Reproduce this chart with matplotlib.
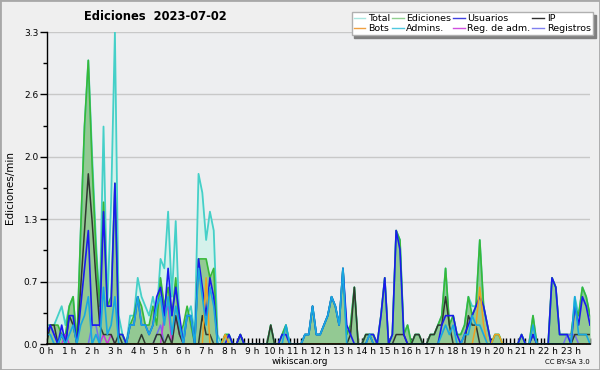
import numpy as np
import matplotlib
matplotlib.use("Agg")
import matplotlib.pyplot as plt
from matplotlib.lines import Line2D
from matplotlib.ticker import MultipleLocator, FixedLocator

# one value every 10 minutes, 00:00 .. 23:50 (one row per hour)
total = [
    0.2, 0.2, 0.2, 0.3, 0.4, 0.2,
    0.4, 0.5, 0.0, 1.2, 2.3, 3.0,
    2.0, 1.1, 0.4, 2.3, 0.4, 1.5,
    3.3, 0.3, 0.1, 0.0, 0.3, 0.3,
    0.7, 0.5, 0.4, 0.3, 0.5, 0.3,
    0.9, 0.8, 1.4, 0.5, 1.3, 0.2,
    0.1, 0.3, 0.4, 0.1, 1.8, 1.6,
    1.1, 1.4, 1.2, 0.1, 0.0, 0.1,
    0.1, 0.0, 0.0, 0.1, 0.0, 0.0,
    0.0, 0.0, 0.0, 0.0, 0.0, 0.2,
    0.0, 0.0, 0.1, 0.2, 0.0, 0.0,
    0.0, 0.0, 0.1, 0.1, 0.4, 0.1,
    0.1, 0.2, 0.3, 0.5, 0.4, 0.2,
    0.8, 0.1, 0.2, 0.6, 0.0, 0.0,
    0.1, 0.1, 0.1, 0.0, 0.3, 0.7,
    0.0, 0.1, 1.2, 1.1, 0.1, 0.2,
    0.0, 0.1, 0.1, 0.0, 0.0, 0.1,
    0.1, 0.2, 0.3, 0.8, 0.2, 0.3,
    0.1, 0.1, 0.2, 0.5, 0.4, 0.4,
    1.1, 0.4, 0.2, 0.0, 0.1, 0.1,
    0.0, 0.0, 0.0, 0.0, 0.0, 0.1,
    0.0, 0.0, 0.3, 0.0, 0.0, 0.0,
    0.0, 0.7, 0.6, 0.1, 0.1, 0.1,
    0.0, 0.5, 0.3, 0.6, 0.5, 0.3,
]
ediciones = [
    0.1, 0.2, 0.2, 0.2, 0.1, 0.1,
    0.4, 0.5, 0.0, 1.2, 2.3, 3.0,
    1.9, 1.0, 0.4, 1.5, 0.4, 0.5,
    1.7, 0.1, 0.1, 0.0, 0.2, 0.3,
    0.5, 0.4, 0.2, 0.2, 0.4, 0.2,
    0.7, 0.4, 0.6, 0.3, 0.7, 0.1,
    0.2, 0.4, 0.2, 0.0, 0.9, 0.9,
    0.9, 0.7, 0.8, 0.0, 0.0, 0.1,
    0.1, 0.0, 0.0, 0.1, 0.0, 0.0,
    0.0, 0.0, 0.0, 0.0, 0.0, 0.2,
    0.0, 0.0, 0.1, 0.2, 0.0, 0.0,
    0.0, 0.0, 0.1, 0.1, 0.4, 0.1,
    0.1, 0.2, 0.3, 0.5, 0.4, 0.2,
    0.8, 0.1, 0.2, 0.6, 0.0, 0.0,
    0.1, 0.1, 0.1, 0.0, 0.3, 0.7,
    0.0, 0.1, 1.2, 1.1, 0.1, 0.2,
    0.0, 0.1, 0.1, 0.0, 0.0, 0.1,
    0.1, 0.2, 0.3, 0.8, 0.2, 0.3,
    0.1, 0.1, 0.2, 0.5, 0.3, 0.4,
    1.1, 0.4, 0.2, 0.0, 0.1, 0.1,
    0.0, 0.0, 0.0, 0.0, 0.0, 0.1,
    0.0, 0.0, 0.3, 0.0, 0.0, 0.0,
    0.0, 0.7, 0.6, 0.1, 0.1, 0.1,
    0.1, 0.4, 0.3, 0.6, 0.5, 0.3,
]
usuarios = [
    0.1, 0.2, 0.1, 0.0, 0.2, 0.0,
    0.3, 0.3, 0.0, 0.4, 0.8, 1.2,
    0.2, 0.2, 0.2, 1.4, 0.4, 0.4,
    1.7, 0.1, 0.1, 0.0, 0.2, 0.2,
    0.5, 0.2, 0.2, 0.1, 0.2, 0.5,
    0.6, 0.3, 0.8, 0.3, 0.6, 0.3,
    0.0, 0.3, 0.3, 0.0, 0.9, 0.6,
    0.3, 0.7, 0.5, 0.0, 0.0, 0.0,
    0.1, 0.0, 0.0, 0.1, 0.0, 0.0,
    0.0, 0.0, 0.0, 0.0, 0.0, 0.0,
    0.0, 0.0, 0.1, 0.1, 0.0, 0.0,
    0.0, 0.0, 0.1, 0.1, 0.4, 0.1,
    0.1, 0.2, 0.3, 0.5, 0.4, 0.2,
    0.8, 0.2, 0.1, 0.0, 0.0, 0.0,
    0.0, 0.1, 0.1, 0.0, 0.3, 0.7,
    0.0, 0.1, 1.2, 1.0, 0.1, 0.0,
    0.0, 0.0, 0.0, 0.0, 0.0, 0.0,
    0.0, 0.0, 0.2, 0.3, 0.3, 0.3,
    0.1, 0.0, 0.1, 0.2, 0.3, 0.4,
    0.5, 0.4, 0.2, 0.0, 0.0, 0.0,
    0.0, 0.0, 0.0, 0.0, 0.0, 0.1,
    0.0, 0.0, 0.1, 0.0, 0.0, 0.0,
    0.0, 0.7, 0.6, 0.1, 0.1, 0.1,
    0.0, 0.4, 0.2, 0.5, 0.4, 0.2,
]
ip = [
    0.0, 0.2, 0.2, 0.0, 0.1, 0.0,
    0.3, 0.2, 0.0, 0.6, 1.2, 1.8,
    1.3, 0.7, 0.2, 0.1, 0.1, 0.1,
    0.0, 0.1, 0.0, 0.0, 0.0, 0.0,
    0.0, 0.1, 0.0, 0.0, 0.0, 0.1,
    0.1, 0.0, 0.1, 0.0, 0.3, 0.1,
    0.0, 0.0, 0.0, 0.0, 0.0, 0.3,
    0.1, 0.1, 0.0, 0.0, 0.0, 0.0,
    0.0, 0.0, 0.0, 0.1, 0.0, 0.0,
    0.0, 0.0, 0.0, 0.0, 0.0, 0.2,
    0.0, 0.0, 0.0, 0.0, 0.0, 0.0,
    0.0, 0.0, 0.0, 0.0, 0.0, 0.0,
    0.0, 0.0, 0.0, 0.0, 0.0, 0.0,
    0.0, 0.0, 0.1, 0.6, 0.0, 0.0,
    0.1, 0.1, 0.0, 0.0, 0.0, 0.0,
    0.0, 0.0, 0.1, 0.1, 0.1, 0.0,
    0.0, 0.1, 0.1, 0.0, 0.0, 0.1,
    0.1, 0.2, 0.2, 0.5, 0.2, 0.0,
    0.0, 0.0, 0.0, 0.3, 0.2, 0.2,
    0.0, 0.0, 0.0, 0.0, 0.0, 0.0,
    0.0, 0.0, 0.0, 0.0, 0.0, 0.0,
    0.0, 0.0, 0.1, 0.0, 0.0, 0.0,
    0.0, 0.0, 0.0, 0.0, 0.0, 0.0,
    0.0, 0.1, 0.1, 0.1, 0.1, 0.1,
]
admins = [
    0.1, 0.1, 0.0, 0.0, 0.1, 0.0,
    0.1, 0.2, 0.0, 0.2, 0.3, 0.5,
    0.0, 0.1, 0.0, 0.6, 0.1, 0.2,
    0.5, 0.0, 0.0, 0.0, 0.2, 0.2,
    0.5, 0.2, 0.2, 0.1, 0.2, 0.4,
    0.5, 0.2, 0.5, 0.1, 0.4, 0.2,
    0.0, 0.3, 0.3, 0.0, 0.8, 0.5,
    0.2, 0.6, 0.4, 0.0, 0.0, 0.0,
    0.0, 0.0, 0.0, 0.0, 0.0, 0.0,
    0.0, 0.0, 0.0, 0.0, 0.0, 0.0,
    0.0, 0.0, 0.0, 0.2, 0.0, 0.0,
    0.0, 0.0, 0.1, 0.1, 0.4, 0.1,
    0.1, 0.2, 0.3, 0.5, 0.4, 0.2,
    0.8, 0.0, 0.0, 0.0, 0.0, 0.0,
    0.0, 0.1, 0.0, 0.0, 0.0, 0.0,
    0.0, 0.0, 0.0, 0.0, 0.0, 0.0,
    0.0, 0.0, 0.0, 0.0, 0.0, 0.0,
    0.0, 0.0, 0.1, 0.2, 0.1, 0.2,
    0.0, 0.0, 0.1, 0.1, 0.3, 0.2,
    0.2, 0.1, 0.0, 0.0, 0.0, 0.0,
    0.0, 0.0, 0.0, 0.0, 0.0, 0.0,
    0.0, 0.0, 0.2, 0.0, 0.0, 0.0,
    0.0, 0.0, 0.0, 0.0, 0.0, 0.0,
    0.0, 0.5, 0.1, 0.1, 0.1, 0.0,
]
# sparse series: slot index (10 min) -> value
bots_slots = [42, 47, 113, 114, 115, 118, 119]
bots_vals = [0.7, 0.1, 0.2, 0.6, 0.2, 0.1, 0.1]
regadm_slots = [5, 15, 17, 31, 32, 34, 35]
regadm_vals = [0.1, 0.1, 0.1, 0.3, 0.4, 0.3, 0.1]
registros_slots = [0, 1, 2, 4, 12, 13, 29, 30, 137, 138, 139]
registros_vals = [0.1, 0.2, 0.1, 0.1, 0.2, 0.2, 0.1, 0.2, 0.1, 0.1, 0.1]

hours = np.arange(len(total)) / 6.0


def sparse(slots, vals):
    s = np.zeros(len(total))
    s[slots] = vals
    return s


bots = sparse(bots_slots, bots_vals)
regadm = sparse(regadm_slots, regadm_vals)
registros = sparse(registros_slots, registros_vals)

fig = plt.figure(figsize=(6, 3.7), dpi=100, facecolor="#efefef")
fig.patches.append(plt.Rectangle((0, 0), 1, 1, transform=fig.transFigure, fill=False,
                                 edgecolor="#a8a8a8", linewidth=2))
ax = fig.add_axes([46.5 / 600, 26 / 370, 543.5 / 600, 312 / 370])
ax.set_facecolor("#edeef0")

ax.fill_between(hours, total, color="#d4f1eb", lw=0)
ax.fill_between(hours, ediciones, color="#93c993", lw=0)
ax.plot(hours, total, color="#45d0c8", lw=1.3)
ax.plot(hours, ediciones, color="#38b838", lw=1.2)
ax.plot(hours, registros, color="#7070f0", lw=1.1)
ax.plot(hours, regadm, color="#c838d8", lw=1.1)
ax.plot(hours, ip, color="#303830", lw=1.1)
ax.plot(hours, usuarios, color="#1a1aee", lw=1.2)
ax.plot(hours, bots, color="#f0a020", lw=1.1)
ax.plot(hours, admins, color="#18a8e0", lw=1.2)

ax.set_xlim(0, hours[-1])
ax.set_ylim(0, 3.3)

yt = [0, 0.66, 1.32, 1.98, 2.64, 3.3]
ax.set_yticks(yt)
ax.set_yticklabels(["%.1f" % v for v in yt], fontsize=6.5)
ax.yaxis.set_minor_locator(FixedLocator([0.33, 0.99, 1.65, 2.31, 2.97]))
ax.tick_params(axis="y", which="major", direction="out", length=5, width=1, pad=1)
ax.tick_params(axis="y", which="minor", direction="out", length=3, width=1)
ax.grid(axis="y", color="#c8c8c8", lw=1)
ax.set_axisbelow(True)

ax.set_xticks(np.arange(0, 24))
ax.set_xticklabels(["%d h" % h for h in range(24)], fontsize=6.5)
ax.xaxis.set_minor_locator(MultipleLocator(1 / 6))
ax.tick_params(axis="x", which="both", direction="in", length=4, width=1, pad=2)

for s in ["top", "right"]:
    ax.spines[s].set_visible(False)
ax.spines["left"].set_linewidth(1)
ax.spines["bottom"].set_linewidth(1.2)

fig.text(10 / 600, 1 - 188 / 370, "Ediciones/min", rotation=90, fontsize=7.5,
         ha="center", va="center")
fig.text(155 / 600, 1 - 17 / 370, "Ediciones  2023-07-02", fontsize=8.3,
         fontweight="bold", ha="center", va="center")
fig.text(300 / 600, 1 - 361 / 370, "wikiscan.org", fontsize=6.5, ha="center", va="center")
fig.text(590 / 600, 1 - 362 / 370, "CC BY-SA 3.0", fontsize=5, ha="right", va="center")

names = ["Total", "Bots", "Ediciones", "Admins.", "Usuarios", "Reg. de adm.", "IP", "Registros"]
colors = ["#a8e6e0", "#f0a040", "#90d090", "#50c8e0", "#4040e0", "#d050e0", "#303030", "#8080f0"]
handles = [Line2D([], [], color=c, lw=1) for c in colors]
fig.legend(handles, names, ncol=4, loc="upper right", bbox_to_anchor=(593 / 600, 1 - 12 / 370),
           fontsize=6.8, frameon=True, fancybox=False, shadow={"color": "#808080", "alpha": 1},
           edgecolor="#b0b0b0", framealpha=1, handlelength=1.2, handletextpad=0.3,
           columnspacing=0.2, labelspacing=0.05, borderpad=0.25, borderaxespad=0)

fig.savefig("out.png", dpi=100, facecolor=fig.get_facecolor())
